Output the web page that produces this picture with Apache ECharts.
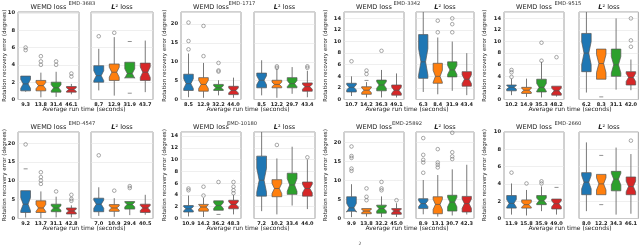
<!DOCTYPE html>
<html><head><meta charset="utf-8">
<script src="https://cdn.jsdelivr.net/npm/echarts@6/dist/echarts.min.js"></script>
<style>html,body{margin:0;padding:0;background:#fff}#c{width:640px;height:249px}</style>
</head><body><div id="c"></div>
<script>
// ---------- DATA ----------
const panelIds = ['EMD-3683','EMD-1717','EMD-3342','EMD-9515','EMD-4547','EMD-10180','EMD-25892','EMD-2660'];
const yMax = [10.1, 23.2, 15.1, 15.1, 23, 14.7, 22.7, 10];
const yTicks_3683 = [0,2,4,6,8,10];
const yTicks_1717 = [0,5,10,15,20];
const yTicks_3342 = [0,2,4,6,8,10,12,14];
const yTicks_9515 = [0,2,4,6,8,10,12,14];
const yTicks_4547 = [0,5,10,15,20];
const yTicks_10180 = [0,2,4,6,8,10,12,14];
const yTicks_25892 = [0,5,10,15,20];
const yTicks_2660 = [0,2,4,6,8,10];

// box rows: [lower whisker, q1, median, q3, upper whisker]
// EMD-3683
const t3683_w = ['9.3','13.8','31.4','46.1'];
const t3683_l = ['8.7','12.9','31.9','43.7'];
const b3683_w = [[0.9,1.0,1.8,2.7,2.7],[0.25,1.0,1.6,2.2,3.1],[0.3,0.85,1.35,2.0,3.2],[0.6,0.85,1.15,1.5,1.8]];
const b3683_l = [[1.05,2.0,2.75,3.9,5.85],[0.45,2.2,3.15,4.1,7.2],[2.5,2.5,3.0,4.3,4.3],[0.85,2.2,3.15,4.2,6.8]];
const o3683_w = [[0,6.0],[0,5.7],[1,5.0],[1,4.4],[1,4.0],[2,4.4],[2,4.0],[3,3.0],[3,2.65]];
const o3683_l = [[0,7.3],[1,7.7]];
const d3683_w = [];
const d3683_l = [[2,6.7],[2,0.73]];
// EMD-1717
const t1717_w = ['8.5','12.9','32.2','44.0'];
const t1717_l = ['8.5','12.2','29.7','43.4'];
const b1717_w = [[0.6,2.4,4.2,6.7,12.2],[0.45,2.2,4.0,5.8,9.7],[1.1,2.4,3.1,4.0,5.1],[0.45,1.3,2.4,3.5,5.8]];
const b1717_l = [[1.1,3.1,5.1,7.0,10.4],[0.45,3.1,4.0,5.1,8.2],[1.5,3.1,4.2,5.8,8.6],[0.6,2.2,3.4,4.4,7.6]];
const o1717_w = [[0,20.4],[0,15.5],[0,13.3],[1,19.5],[1,11.5],[2,9.7],[2,7.7],[2,7.4]];
const o1717_l = [[1,8.8],[1,8.4],[3,8.8],[3,8.4]];
const d1717_w = [];
const d1717_l = [];
// EMD-3342
const t3342_w = ['10.7','14.2','36.3','49.1'];
const t3342_l = ['6.3','8.4','31.9','43.4'];
const b3342_w = [[0.6,1.3,2.1,2.8,4.0],[0.35,0.9,1.6,2.2,3.0],[0.35,1.5,2.5,3.35,5.1],[0.35,0.75,1.6,2.5,4.5]];
const b3342_l = [[1.3,3.65,6.5,11.2,16],[0.9,2.8,4.0,6.25,10.7],[1.5,3.9,5.1,6.5,10.0],[0.75,2.3,3.5,4.8,8.0]];
const o3342_w = [[0,6.6],[1,5.0],[1,4.4],[2,8.4]];
const o3342_l = [[1,13.6],[1,11.6],[2,14.0],[2,13.0],[2,11.6]];
const d3342_w = [[1,3.3]];
const d3342_l = [];
// EMD-9515
const t9515_w = ['10.2','14.9','35.3','48.2'];
const t9515_l = ['6.2','8.3','31.1','42.0'];
const b9515_w = [[0.75,1.5,2.1,2.5,3.6],[0.45,1.05,1.6,2.1,3.6],[0.35,1.3,2.1,3.5,6.5],[0.5,0.75,1.5,2.3,2.3]];
const b9515_l = [[1.2,4.8,8.0,11.4,16],[3.5,3.5,6.2,8.7,8.7],[1.7,4.0,6.0,8.7,14.0],[1.6,2.5,3.8,4.8,6.9]];
const o9515_w = [[0,5.1],[0,4.7],[0,3.9],[2,9.8],[2,6.7],[3,7.3]];
const o9515_l = [[3,14.0],[3,10.2],[3,9.1]];
const d9515_w = [];
const d9515_l = [[1,0.45]];
// EMD-4547
const t4547_w = ['9.2','13.7','31.1','42.8'];
const t4547_l = ['7.0','10.9','29.4','40.5'];
const b4547_w = [[0.25,1.6,3.8,7.4,7.4],[0.1,1.6,2.8,4.7,7.2],[0.3,1.8,2.8,3.8,5.8],[0.3,1.2,2.0,2.8,3.5]];
const b4547_l = [[0.7,1.8,3.8,5.4,8.3],[0.45,1.9,2.8,3.7,5.4],[0.9,2.5,3.7,4.5,4.5],[1.0,1.6,2.8,3.8,6.3]];
const o4547_w = [[0,19.7],[1,12.3],[1,11.0],[1,10.1],[1,9.2],[2,7.2],[3,6.3],[3,5.2],[3,4.7]];
const o4547_l = [[0,16.8],[1,7.4],[2,8.6],[2,8.1]];
const d4547_w = [[0,13.2]];
const d4547_l = [];
// EMD-10180
const t10180_w = ['10.9','14.2','36.2','48.3'];
const t10180_l = ['7.2','10.2','33.4','44.0'];
const b10180_w = [[0.35,1.1,1.65,2.2,3.9],[0.25,1.25,1.95,2.4,3.5],[1.4,1.4,2.2,3.0,3.0],[0.7,1.65,2.4,3.1,4.0]];
const b10180_l = [[1.25,3.8,6.5,10.6,16],[0.7,3.7,5.1,6.6,10.2],[2.2,4.1,5.7,7.7,12.2],[1.6,3.8,5.1,6.2,10.0]];
const o10180_w = [[0,5.1],[0,4.8],[1,5.4],[1,3.9],[2,6.2],[3,6.2],[3,5.4],[3,4.8],[3,4.3]];
const o10180_l = [[1,12.5],[3,10.4]];
const d10180_w = [[2,0.7]];
const d10180_l = [];
// EMD-25892
const t25892_w = ['9.9','13.8','32.2','45.0'];
const t25892_l = ['8.9','13.1','30.7','42.3'];
const b25892_w = [[0.35,1.9,2.8,5.7,9.0],[0.5,1.25,1.95,2.6,2.6],[0.35,1.4,2.6,3.5,5.8],[0.4,1.1,1.95,2.6,4.0]];
const b25892_l = [[1.1,2.6,3.9,5.2,10.1],[0.5,1.25,3.7,5.7,11.4],[0.8,1.95,4.3,6.1,12.9],[1.05,1.7,3.9,5.8,14.1]];
const o25892_w = [[0,18.9],[0,16.4],[0,15.9],[0,13.1],[0,12.5],[1,7.9],[1,5.7],[1,4.8],[2,9.6],[2,7.9],[2,7.4],[3,4.8]];
const o25892_l = [[0,21.1],[0,16.7],[0,15.4],[0,14.7],[0,12.0],[1,18.2],[1,14.7],[1,14.1],[1,13.4],[2,22.5],[2,17.4],[2,16.3],[2,15.6]];
const d25892_w = [];
const d25892_l = [];
// EMD-2660
const t2660_w = ['11.9','15.8','35.9','49.0'];
const t2660_l = ['8.0','12.2','34.3','46.1'];
const b2660_w = [[0.45,1.2,1.75,2.65,4.05],[0.35,1.2,1.6,2.15,3.3],[0.85,1.6,2.05,2.65,3.7],[0.45,1.1,1.7,2.25,2.25]];
const b2660_l = [[0.85,2.75,4.2,5.3,8.8],[2.75,2.75,4.0,5.1,5.1],[0.45,3.2,4.55,5.45,8.2],[0.55,2.75,3.7,4.8,7.45]];
const o2660_w = [[0,5.3],[1,4.05],[2,4.3],[2,4.05]];
const o2660_l = [[3,9.0]];
const d2660_w = [[3,3.6]];
const d2660_l = [[1,7.3],[1,1.6]];

const yTicks = [yTicks_3683,yTicks_1717,yTicks_3342,yTicks_9515,yTicks_4547,yTicks_10180,yTicks_25892,yTicks_2660];
const times = [[t3683_w,t3683_l],[t1717_w,t1717_l],[t3342_w,t3342_l],[t9515_w,t9515_l],[t4547_w,t4547_l],[t10180_w,t10180_l],[t25892_w,t25892_l],[t2660_w,t2660_l]];
const boxes = [[b3683_w,b3683_l],[b1717_w,b1717_l],[b3342_w,b3342_l],[b9515_w,b9515_l],[b4547_w,b4547_l],[b10180_w,b10180_l],[b25892_w,b25892_l],[b2660_w,b2660_l]];
const outl = [[o3683_w,o3683_l],[o1717_w,o1717_l],[o3342_w,o3342_l],[o9515_w,o9515_l],[o4547_w,o4547_l],[o10180_w,o10180_l],[o25892_w,o25892_l],[o2660_w,o2660_l]];
const dashes = [[d3683_w,d3683_l],[d1717_w,d1717_l],[d3342_w,d3342_l],[d9515_w,d9515_l],[d4547_w,d4547_l],[d10180_w,d10180_l],[d25892_w,d25892_l],[d2660_w,d2660_l]];

// ---------- LAYOUT / STYLE ----------
const COLORS = ['#1f77b4','#ff7f0e','#2ca02c','#d62728'];
const FONT = 'DejaVu Sans';
const COLS = [[18,79,91,153],[181,241,254,315],[344,404,416,474],[504,564,579,639]];
const ROWS = [[12,99.5],[132,218.5]];
const ID_X = [82,242,407,568];
const XLAB_X = [84,248,407,570];
const YLAB_X = [4.5,164.5,326,484.5];
const NOTCH_K = 0.3;

function renderBox(params, api){
  const c = api.value(0), lo = api.value(1), q1 = api.value(2), md = api.value(3), q3 = api.value(4), hi = api.value(5);
  const k = NOTCH_K*(q3-q1);
  const X = api.coord([c, md])[0];
  const Y = v => api.coord([c, v])[1];
  const hw = api.size([1,0])[0]*0.32;
  const col = COLORS[params.dataIndex];
  const pts = [[X-hw,Y(q1)],[X+hw,Y(q1)],[X+hw,Y(md-k)],[X+hw*0.5,Y(md)],[X+hw,Y(md+k)],[X+hw,Y(q3)],
               [X-hw,Y(q3)],[X-hw,Y(md+k)],[X-hw*0.5,Y(md)],[X-hw,Y(md-k)]];
  return {type:'group', children:[
    {type:'line', shape:{x1:X,y1:Y(lo),x2:X,y2:Y(q1)}, style:{stroke:'#6a6a6a',lineWidth:0.9}},
    {type:'line', shape:{x1:X,y1:Y(q3),x2:X,y2:Y(hi)}, style:{stroke:'#6a6a6a',lineWidth:0.9}},
    {type:'polygon', shape:{points:pts}, style:{fill:col, stroke:'#555', lineWidth:0.7}},
    {type:'line', shape:{x1:X-hw*0.5,y1:Y(md),x2:X+hw*0.5,y2:Y(md)}, style:{stroke:'#555',lineWidth:0.7}}
  ]};
}

const grid=[], xAxis=[], yAxis=[], series=[], graphic=[];
for (let p=0;p<8;p++){
  const row = p<4?0:1, col = p%4;
  const [y0,y1] = ROWS[row];
  const ticks = yTicks[p];
  const step = ticks[1]-ticks[0];
  for (let s=0;s<2;s++){
    const g = p*2+s;
    const x0 = COLS[col][s*2], x1 = COLS[col][s*2+1];
    grid.push({left:x0, top:y0, width:x1-x0, height:y1-y0, show:true, borderColor:'#8a8a8a', borderWidth:0.8, backgroundColor:'#fff'});
    xAxis.push({type:'category', gridIndex:g, data:times[p][s], axisLine:{show:false}, axisTick:{show:false}, splitLine:{show:false},
      axisLabel:{fontSize:5, fontWeight:'bold', color:'#222', margin:2.5, interval:0, fontFamily:FONT}});
    yAxis.push({type:'value', gridIndex:g, min:0, max:yMax[p], interval:step, axisLine:{show:false}, axisTick:{show:false},
      splitLine:{show:true, lineStyle:{color:'#e4e4e4', width:0.6}},
      axisLabel:{show:s===0, fontSize:5.2, fontWeight:'bold', color:'#222', margin:3, fontFamily:FONT,
        formatter: v => ticks.includes(v) ? String(v) : ''}});
    series.push({type:'custom', xAxisIndex:g, yAxisIndex:g, clip:true, renderItem:renderBox,
      data: boxes[p][s].map((b,i)=>[i].concat(b)), encode:{x:0,y:[1,2,3,4,5]}, silent:true});
    series.push({type:'scatter', xAxisIndex:g, yAxisIndex:g, data:outl[p][s], symbol:'circle', symbolSize:3.6, silent:true,
      itemStyle:{color:'rgba(0,0,0,0)', borderColor:'#6e6e6e', borderWidth:0.75}});
    series.push({type:'scatter', xAxisIndex:g, yAxisIndex:g, data:dashes[p][s], symbol:'rect', symbolSize:[4,0.9], silent:true,
      itemStyle:{color:'#666'}});
    const cx = (x0+x1)/2, ty = y0-5;
    if (s===0){
      graphic.push({type:'text', x:cx, y:ty, style:{text:'WEMD loss', font:'6.5px '+FONT, fill:'#222', align:'center', verticalAlign:'middle'}});
    } else {
      graphic.push({type:'text', x:cx, y:ty, style:{text:'{l|L}{n|² loss}', align:'center', verticalAlign:'middle',
        rich:{l:{fontSize:6.5, fontStyle:'italic', fontWeight:'bold', fontFamily:FONT, fill:'#222'}, n:{fontSize:6.5, fontFamily:FONT, fill:'#222'}}}});
    }
  }
  graphic.push({type:'text', x:ID_X[col], y:y0-8.5, style:{text:panelIds[p], font:'5.2px '+FONT, fill:'#333', align:'center', verticalAlign:'middle'}});
  graphic.push({type:'text', x:XLAB_X[col], y:y1+9.5, style:{text:'Average run time (seconds)', font:'6px '+FONT, fill:'#222', align:'center', verticalAlign:'middle'}});
  graphic.push({type:'text', x:YLAB_X[col], y:(y0+y1)/2, rotation:Math.PI/2, style:{text:'Rotation recovery error (degrees)', font:'5.5px '+FONT, fill:'#222', align:'center', verticalAlign:'middle'}});
}
// small cropped caption fragment visible at the bottom of the reference
graphic.push({type:'text', x:360, y:244, style:{text:'2', font:'4.5px '+FONT, fill:'#444', align:'center', verticalAlign:'middle'}});

const chart = echarts.init(document.getElementById('c'), null, {renderer:'canvas'});
chart.setOption({animation:false, backgroundColor:'#fff', grid, xAxis, yAxis, series, graphic});
</script></body></html>
